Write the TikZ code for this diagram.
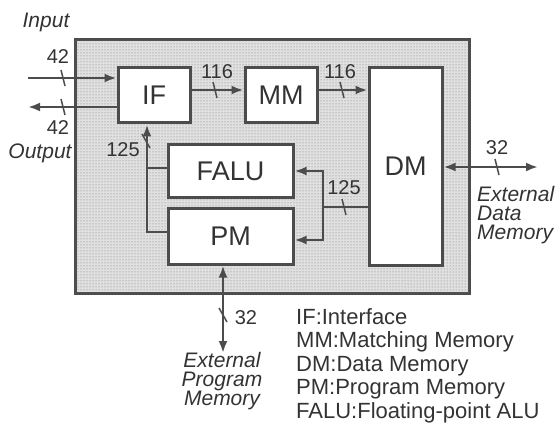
\documentclass[tikz,border=0pt]{standalone}
\usepackage{fontspec}
\setmainfont{Liberation Sans}
\usetikzlibrary{arrows.meta,positioning,calc,patterns}
\tikzset{
  chipbox/.style={draw=black!70, line width=3pt, fill=black!12, postaction={pattern=dots, pattern color=black!55}, minimum width=394pt, minimum height=253pt, inner sep=0pt},
  unitbox/.style={draw=black!70, line width=3pt, fill=white, inner sep=0pt, text=black!80, font=\fontsize{27}{27}\selectfont},
  bus/.style={draw=black!70, line width=2.5pt},
  busarrow/.style={bus, -{Latex[length=12pt,width=9pt]}},
  busboth/.style={bus, {Latex[length=12pt,width=9pt]}-{Latex[length=12pt,width=9pt]}},
  buswidth/.style={font=\fontsize{20}{20}\selectfont, text=black!80, inner sep=0pt},
  extlabel/.style={font=\fontsize{21}{19}\itshape\selectfont, text=black!80, inner sep=0pt},
  keytext/.style={font=\fontsize{22}{23.5}\selectfont, text=black!80, inner sep=0pt, align=left},
  bustick/.pic={\draw[draw=black!70, line width=1.5pt] (-2,-8) -- (2,8);},
  vbustick/.pic={\draw[draw=black!70, line width=1.5pt] (-4,-7) -- (4,7);},
}

\begin{document}
\begin{tikzpicture}[x=1pt, y=-1pt]
  \useasboundingbox (0,0) rectangle (557,425);

  % chip and units
  \node[chipbox] (chip) at (272,166.5) {};
  \node[unitbox, minimum width=72pt, minimum height=55pt] (IF) at (154,95.5) {IF};
  \node[unitbox, minimum width=72pt, minimum height=55pt] (MM) at (281,95.5) {MM};
  \node[unitbox, minimum width=73pt, minimum height=197pt] (DM) at (405.5,166.5) {DM};
  \node[unitbox, minimum width=125pt, minimum height=52pt] (FALU) at (230.5,171) {FALU};
  \node[unitbox, minimum width=125pt, minimum height=56pt] (PM) at (230.5,236) {PM};

  \coordinate (inp) at (28,78);
  \coordinate (outp) at (28,107);
  \coordinate (row) at (0,90);
  \coordinate (edm) at (538,167);
  \coordinate (rbus) at (323,207);
  \coordinate (lbus) at (147,232);
  \coordinate (epm) at (223,353);

  % buses
  \draw[busarrow] (inp) -- (inp -| IF.west);
  \draw[busarrow] (outp -| IF.west) -- (outp);
  \draw[busarrow] (IF.east |- row) -- (MM.west |- row);
  \draw[busarrow] (MM.east |- row) -- (DM.west |- row);
  \draw[busboth] (DM.east |- edm) -- (edm);
  \draw[bus] (DM.west |- rbus) -- (rbus);
  \draw[busarrow] (rbus) |- (FALU.east);
  \draw[busarrow] (rbus) |- ([yshift=-4pt]PM.east);
  \draw[busarrow] (PM.west |- lbus) -- (lbus) -- (lbus |- IF.south);
  \draw[bus] ([yshift=3pt]FALU.west) -- ([yshift=3pt]FALU.west -| lbus);
  \draw[busboth] (PM.south -| epm) -- (epm);

  % bus widths
  \pic at (63,78) {bustick};
  \pic at (63,107) {bustick};
  \pic at (215,90) {bustick};
  \pic at (342,90) {bustick};
  \pic at (497,167) {bustick};
  \pic at (344,207) {bustick};
  \pic at (146,141) {vbustick};
  \pic at (223,315) {vbustick};
  \node[buswidth] (w42a) at (58,57) {42};
  \node[buswidth] (w42b) at (58,128) {42};
  \node[buswidth] (w116a) at (217,72) {116};
  \node[buswidth] (w116b) at (340,72) {116};
  \node[buswidth] (w125a) at (123,150) {125};
  \node[buswidth] (w125b) at (344,188) {125};
  \node[buswidth] (w32a) at (497,148) {32};
  \node[buswidth] (w32b) at (246,318) {32};

  % outside labels
  \node[extlabel] (lin) at (46,22) {Input};
  \node[extlabel] (lout) at (40,153) {Output};
  \node[extlabel, align=left, anchor=north west] (ldm) at (477,186) {External\\Data\\Memory};
  \node[extlabel, align=center, anchor=north] (lpm) at (222,352) {External\\Program\\Memory};
  \node[keytext, anchor=north west] (key) at (296,308) {IF:Interface\\MM:Matching Memory\\DM:Data Memory\\PM:Program Memory\\FALU:Floating-point ALU};
\end{tikzpicture}
\end{document}
